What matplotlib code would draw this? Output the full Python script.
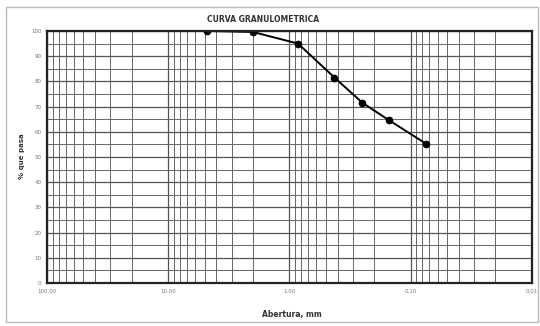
import matplotlib.pyplot as plt
from matplotlib.patches import Rectangle
from matplotlib.ticker import FixedLocator, LogLocator, NullFormatter

# datos de la curva granulometrica
abertura = [4.75, 2.00, 0.85, 0.425, 0.25, 0.15, 0.075]
pasa = [100.0, 99.6, 95.0, 81.5, 71.5, 64.5, 55.3]

x_ticks = [100, 10, 1, 0.1, 0.01]
x_labels = ["100.00", "10.00", "1.00", "0.10", "0.01"]
y_ticks = list(range(0, 101, 10))

fig = plt.figure(figsize=(5.4, 3.26), dpi=100)
ax = fig.add_axes([0.087, 0.132, 0.898, 0.773])

ax.plot(abertura, pasa, color='black', linewidth=1.4, marker='o', markersize=4.5)

ax.set_xscale('log')
ax.set_xlim(100, 0.01)
ax.set_ylim(0, 100)

ax.xaxis.set_major_locator(FixedLocator(x_ticks))
ax.set_xticklabels(x_labels)
ax.xaxis.set_minor_locator(LogLocator(base=10, subs=range(2, 10)))
ax.xaxis.set_minor_formatter(NullFormatter())
ax.set_yticks(y_ticks)
ax.set_yticks(range(5, 100, 10), minor=True)

# grilla
ax.grid(True, which='major', color='#555555', linewidth=0.9)
ax.grid(True, which='minor', color='#666666', linewidth=0.7)

ax.tick_params(which='both', length=0, labelsize=4, colors='#777777', pad=4)
for s in ax.spines.values():
    s.set_linewidth(1.6)
    s.set_color('#222222')

fig.text(0.487, 0.94, 'CURVA GRANULOMETRICA', fontsize=5.5, fontweight='bold',
         ha='center', va='center', color='#333333')
fig.text(0.54, 0.035, 'Abertura, mm', fontsize=5.5, fontweight='bold',
         ha='center', va='center', color='#333333')
fig.text(0.04, 0.52, '% que pasa', fontsize=5, fontweight='bold', rotation=90,
         ha='center', va='center', color='#333333')

# marco exterior
fig.patches.append(Rectangle((0.012, 0.012), 0.985, 0.965, transform=fig.transFigure,
                             fill=False, edgecolor='#bbbbbb', linewidth=1.0))

fig.savefig('out.png', dpi=100)
